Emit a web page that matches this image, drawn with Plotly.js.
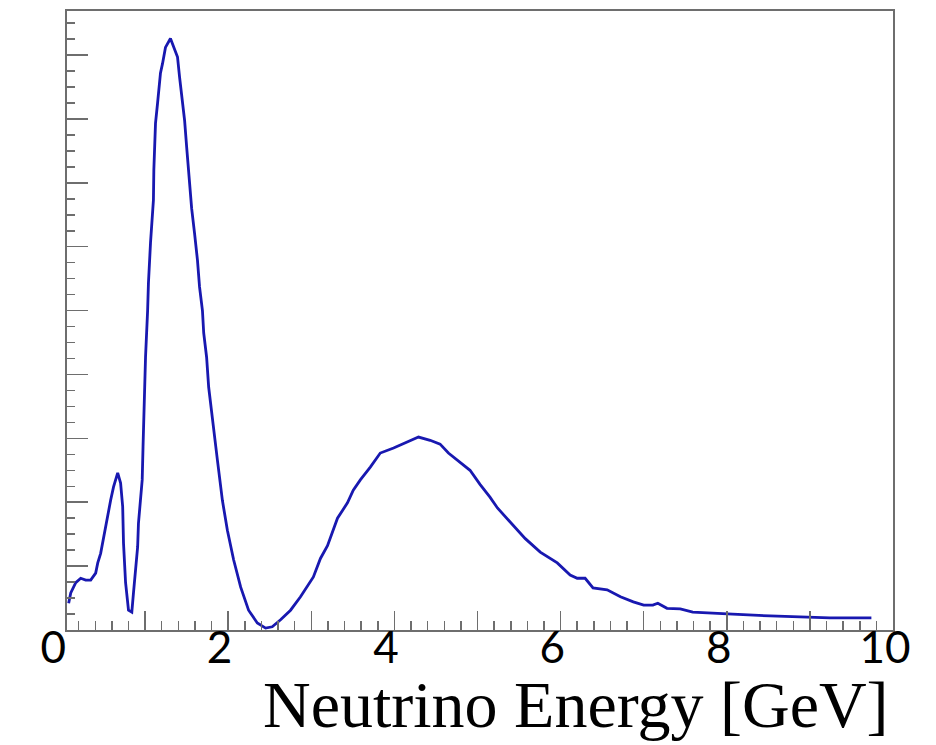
<!DOCTYPE html>
<html>
<head>
<meta charset="utf-8">
<script src="https://cdn.plot.ly/plotly-3.0.1.min.js"></script>
<style>html,body{margin:0;padding:0;background:#fff;}#chart{width:936px;height:745px;}</style>
</head>
<body>
<div id="chart"></div>
<script>
// Neutrino energy (GeV)
const energy = [0.08,0.105,0.165,0.225,0.285,0.345,0.405,0.43,0.465,0.50,0.55,0.585,0.62,0.67,0.705,0.73,0.74,0.765,0.80,0.84,0.86,0.885,0.91,0.92,0.945,0.965,0.975,0.985,1.005,1.03,1.04,1.065,1.09,1.10,1.105,1.125,1.15,1.185,1.21,1.245,1.305,1.34,1.39,1.415,1.45,1.475,1.50,1.525,1.56,1.595,1.63,1.655,1.69,1.705,1.74,1.765,1.80,1.825,1.87,1.93,1.99,2.065,2.15,2.245,2.35,2.45,2.53,2.63,2.75,2.87,3.025,3.11,3.195,3.315,3.435,3.505,3.59,3.71,3.83,3.99,4.155,4.29,4.43,4.55,4.65,4.79,4.91,5.03,5.15,5.24,5.39,5.51,5.575,5.755,5.96,6.115,6.20,6.295,6.39,6.56,6.72,6.875,7.0,7.11,7.17,7.28,7.44,7.59,7.83,8.07,8.52,8.88,9.24,9.74];
// Flux (arbitrary units, one unit per major y tick)
const flux = [0.42,0.58,0.74,0.81,0.78,0.78,0.89,1.05,1.2,1.46,1.77,2.03,2.24,2.46,2.3,1.93,1.36,0.74,0.31,0.28,0.58,0.89,1.3,1.67,2.08,2.35,2.87,3.44,4.27,5.0,5.43,6.06,6.45,6.73,7.2,7.93,8.25,8.72,8.87,9.12,9.26,9.15,8.97,8.65,8.29,7.98,7.56,7.09,6.6,6.21,5.79,5.37,5.0,4.65,4.27,3.8,3.4,3.2,2.66,2.03,1.56,1.1,0.67,0.31,0.11,0.03,0.05,0.16,0.31,0.52,0.83,1.12,1.32,1.75,1.99,2.19,2.35,2.55,2.77,2.85,2.94,3.02,2.97,2.91,2.77,2.63,2.5,2.28,2.08,1.91,1.69,1.53,1.43,1.22,1.05,0.86,0.81,0.81,0.66,0.63,0.52,0.44,0.39,0.39,0.42,0.34,0.33,0.28,0.27,0.25,0.22,0.20,0.19,0.19];
// Tick labels
const tickValues = [0,2,4,6,8,10];
const tickLabels = ["0","2","4","6","8","10"];
const xTitle = "Neutrino Energy [GeV]";

const axisColor = '#6e6e6e';
const traces = [
  {x: [], y: [], type: 'scatter', mode: 'lines', xaxis: 'x2', yaxis: 'y', showlegend: false, hoverinfo: 'skip'},
  {x: energy, y: flux, type: 'scatter', mode: 'lines', xaxis: 'x', yaxis: 'y',
   line: {color: '#1818b0', width: 2.8}, hoverinfo: 'skip', showlegend: false}
];
const W = 936, H = 745, ml = 55, mr = 43, mt = 11, mb = 115;
const pw = W - ml - mr;
const layout = {
  width: W, height: H,
  margin: {l: ml, r: mr, t: mt, b: mb, pad: 0},
  paper_bgcolor: '#fff', plot_bgcolor: 'rgba(0,0,0,0)',
  showlegend: false,
  xaxis: {
    domain: [12 / pw, 1], range: [0.06, 10],
    showline: true, linecolor: axisColor, linewidth: 2, mirror: true,
    ticks: 'inside', ticklen: 19, tickwidth: 1.5, tickcolor: axisColor,
    tick0: 0, dtick: 1, showticklabels: false, showgrid: false, zeroline: false,
    minor: {ticks: 'inside', ticklen: 9, tickwidth: 1.5, tickcolor: axisColor, dtick: 0.2, tick0: 0, showgrid: false}
  },
  xaxis2: {
    domain: [6.3 / pw, 1], range: [0, 10], anchor: 'y',
    showline: false, ticks: '', showgrid: false, zeroline: false,
    tickmode: 'array', tickvals: tickValues, ticktext: tickLabels,
    tickfont: {family: 'Lato, sans-serif', size: 44, color: '#000'},
    ticklabelshift: -8, ticklabelstandoff: -12
  },
  yaxis: {
    domain: [0, 1], range: [0, 9.69], anchor: 'x',
    showline: true, linecolor: axisColor, linewidth: 2, mirror: true,
    ticks: 'inside', ticklen: 21, tickwidth: 1.5, tickcolor: axisColor,
    tick0: 0, dtick: 1, showticklabels: false, showgrid: false, zeroline: false,
    minor: {ticks: 'inside', ticklen: 8, tickwidth: 1.5, tickcolor: axisColor, dtick: 0.25, tick0: 0, showgrid: false}
  },
  annotations: [{
    text: xTitle, xref: 'paper', yref: 'paper',
    x: (891 - ml) / pw, xanchor: 'right',
    y: -0.12, yanchor: 'middle', showarrow: false,
    font: {family: '"Liberation Serif", "Times New Roman", serif', size: 66, color: '#000'}
  }]
};
Plotly.newPlot('chart', traces, layout, {displayModeBar: false, staticPlot: true});
</script>
</body>
</html>
